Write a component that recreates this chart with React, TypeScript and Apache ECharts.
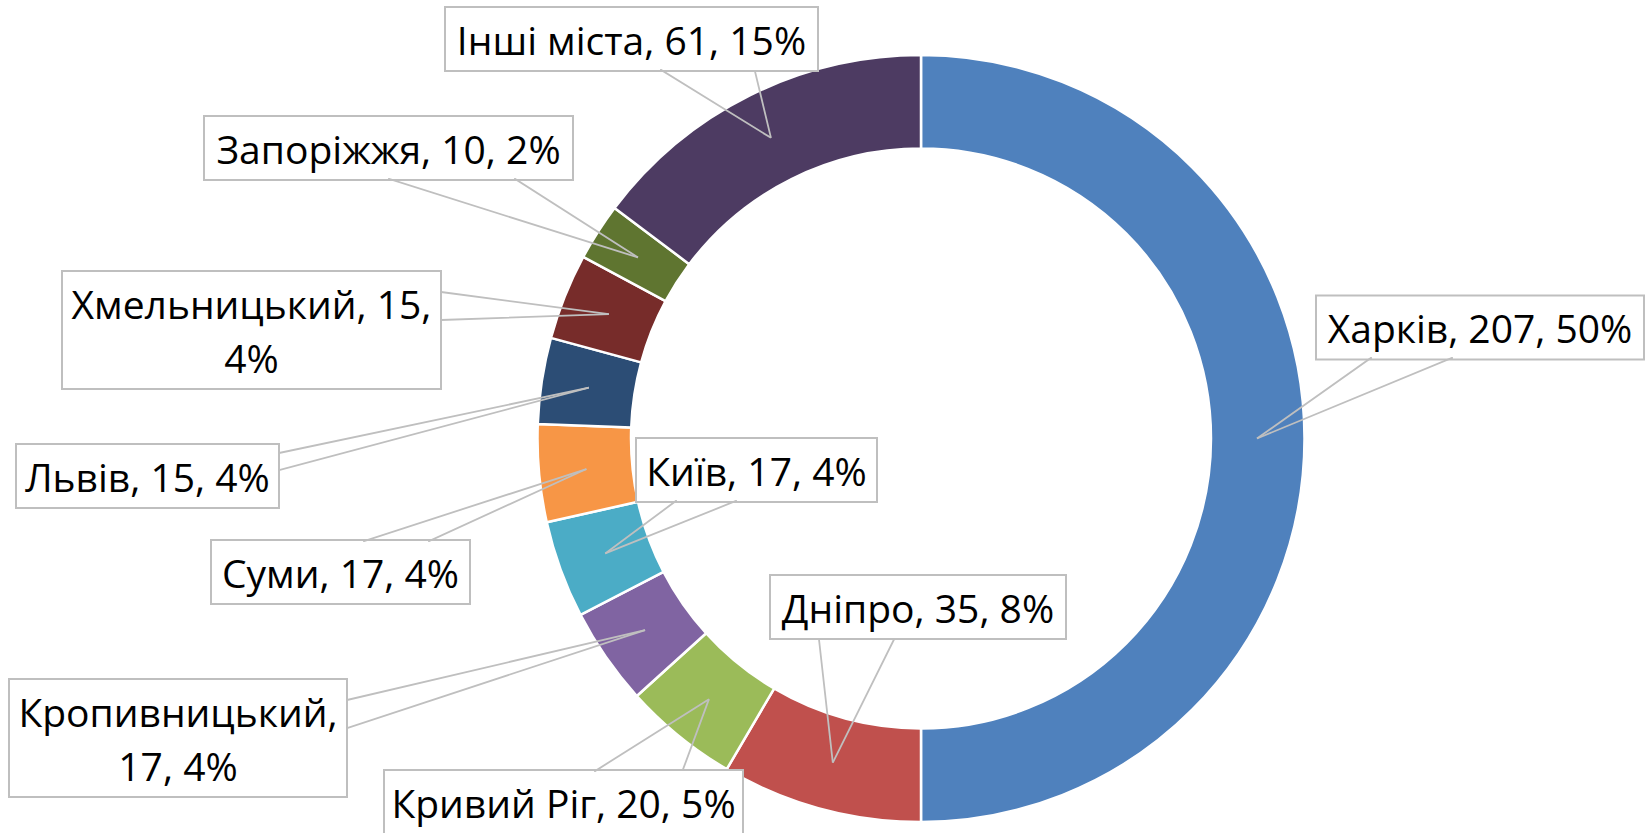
import React, { useEffect, useRef } from "react";
import * as echarts from "echarts";

// ---- data ----
const cities = [
  "Харків",
  "Дніпро",
  "Кривий Ріг",
  "Кропивницький",
  "Київ",
  "Суми",
  "Львів",
  "Хмельницький",
  "Запоріжжя",
  "Інші міста",
];
const counts = [207, 35, 20, 17, 17, 17, 15, 15, 10, 61];

// ---- styling / layout ----
const colors = [
  "#4F81BD",
  "#C0504D",
  "#9BBB59",
  "#8064A2",
  "#4BACC6",
  "#F79646",
  "#2C4D75",
  "#772C2A",
  "#5F7530",
  "#4D3B62",
];
// callout boxes: left, top, right, bottom
const boxes = [
  [1317, 297, 1643, 358],
  [771, 576, 1065, 638],
  [385, 771, 742, 833],
  [10, 680, 346, 796],
  [637, 439, 876, 501],
  [212, 541, 469, 603],
  [17, 445, 278, 507],
  [63, 272, 440, 388],
  [205, 117, 572, 179],
  [446, 8, 817, 70],
];
// which ", " separator becomes a line break (-1: none)
const breakAt = [-1, -1, -1, 0, -1, -1, -1, 1, -1, -1];
// callout wedge base points
const wedgeA = [
  [1372, 358],
  [819, 638],
  [594, 771],
  [346, 700],
  [677, 501],
  [363, 541],
  [278, 453],
  [440, 292],
  [388, 179],
  [660, 70],
];
const wedgeB = [
  [1453, 358],
  [894, 638],
  [683, 771],
  [346, 728],
  [737, 501],
  [428, 541],
  [278, 470],
  [440, 320],
  [514, 179],
  [755, 70],
];

const FONT = "'Open Sans', 'Noto Sans', sans-serif";
const CENTER = [921, 438.5];
const R_IN = 290;
const R_OUT = 383.5;
const R_TIP = 336;
const GRAY = "#BFBFBF";

const total = counts.reduce((a, b) => a + b, 0);

function labelText(i: number): string {
  const parts = [cities[i], String(counts[i]), Math.round((counts[i] / total) * 100) + "%"];
  let s = "";
  for (let k = 0; k < parts.length; k++) {
    s += parts[k];
    if (k < parts.length - 1) s += k === breakAt[i] ? ",\n" : ", ";
  }
  return s;
}

function lineSeries(pts: number[][]) {
  return {
    type: "pie",
    z: 5,
    center: CENTER,
    radius: [0, R_TIP],
    startAngle: 90,
    clockwise: true,
    avoidLabelOverlap: false,
    silent: true,
    emphasis: { disabled: true },
    data: cities.map((name, i) => ({ name, value: counts[i] })),
    itemStyle: { color: "rgba(0,0,0,0)", borderWidth: 0 },
    label: {
      show: true,
      position: "outside",
      formatter: " ",
      fontSize: 1,
      color: "rgba(0,0,0,0)",
    },
    labelLine: {
      show: true,
      length: 0,
      length2: 1,
      smooth: false,
      lineStyle: { color: GRAY, width: 1.8 },
    },
    labelLayout: (p: any) => ({
      x: pts[p.dataIndex][0],
      y: pts[p.dataIndex][1],
      align: "center",
      verticalAlign: "middle",
    }),
  };
}

export default function App() {
  const ref = useRef<HTMLDivElement>(null);
  useEffect(() => {
    if (!ref.current) return;
    const chart = echarts.init(ref.current, undefined, { renderer: "svg" });
    const ringData = cities.map((name, i) => ({
      name,
      value: counts[i],
      itemStyle: { color: colors[i] },
      label: { width: boxes[i][2] - boxes[i][0] },
    }));
    chart.setOption({
      animation: false,
      backgroundColor: "#fff",
      series: [
        {
          type: "pie",
          z: 2,
          center: CENTER,
          radius: [R_IN, R_OUT],
          startAngle: 90,
          clockwise: true,
          avoidLabelOverlap: false,
          silent: true,
          emphasis: { disabled: true },
          data: ringData,
          itemStyle: { borderColor: "#fff", borderWidth: 2.5 },
          label: {
            show: true,
            position: "outside",
            formatter: (p: any) => labelText(p.dataIndex),
            color: "#000",
            fontFamily: FONT,
            fontSize: 39,
            lineHeight: 54,
            backgroundColor: "#fff",
            borderColor: GRAY,
            borderWidth: 2,
            padding: [4, 0, 4, 0],
            align: "center",
          },
          labelLine: { show: false },
          labelLayout: (p: any) => {
            const b = boxes[p.dataIndex];
            return {
              x: (b[0] + b[2]) / 2,
              y: (b[1] + b[3]) / 2,
              align: "center",
              verticalAlign: "middle",
            };
          },
        },
        lineSeries(wedgeA),
        lineSeries(wedgeB),
      ],
    });
    return () => chart.dispose();
  }, []);
  return (
    <div
      ref={ref}
      style={{ position: "fixed", left: 0, top: 0, width: 1645, height: 833 }}
    />
  );
}
